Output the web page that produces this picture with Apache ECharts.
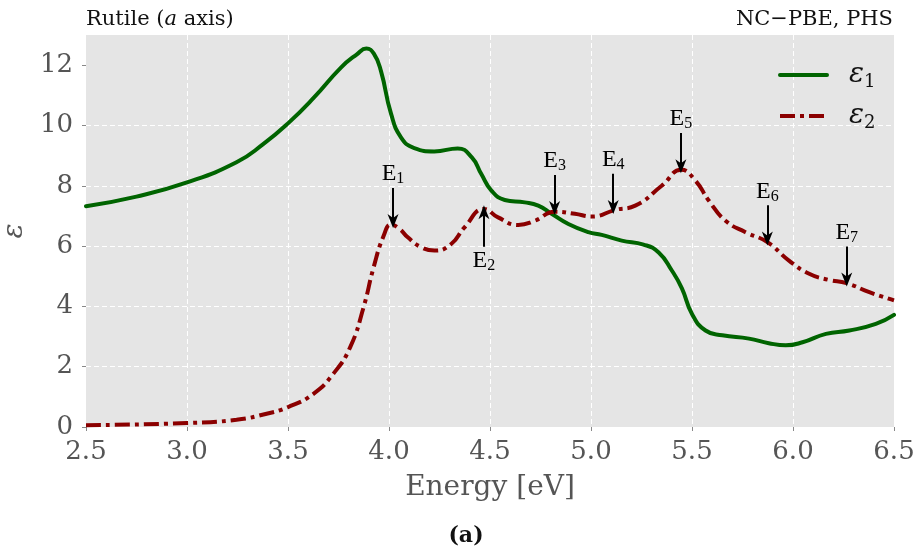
<!DOCTYPE html>
<html>
<head>
<meta charset="utf-8">
<script src="https://cdn.jsdelivr.net/npm/echarts@6/dist/echarts.min.js"></script>
<style>
html,body{margin:0;padding:0;background:#fff;}
#chart{width:923px;height:553px;}
</style>
</head>
<body>
<div id="chart"></div>
<script>
// ---- data ----
const eps1X = [2.5, 2.75, 3.0, 3.245, 3.377, 3.5, 3.629, 3.762, 3.841, 3.888, 3.925, 3.96, 4.01, 4.06, 4.125, 4.224, 4.34, 4.41, 4.457, 4.507, 4.573, 4.672, 4.739, 4.805, 4.888, 4.987, 5.053, 5.152, 5.26, 5.335, 5.40, 5.45, 5.50, 5.567, 5.65, 5.782, 5.88, 5.964, 6.047, 6.163, 6.279, 6.41, 6.5];
const eps1Y = [7.32, 7.64, 8.11, 8.78, 9.38, 10.07, 10.93, 11.92, 12.36, 12.55, 12.38, 11.81, 10.39, 9.6, 9.25, 9.14, 9.24, 8.94, 8.39, 7.84, 7.53, 7.45, 7.34, 7.07, 6.73, 6.46, 6.37, 6.18, 6.05, 5.79, 5.19, 4.6, 3.75, 3.20, 3.04, 2.93, 2.78, 2.71, 2.81, 3.09, 3.20, 3.42, 3.72];

const eps2X = [2.5, 3.0, 3.245, 3.394, 3.5, 3.626, 3.725, 3.808, 3.874, 3.924, 3.974, 4.01, 4.052, 4.093, 4.16, 4.225, 4.308, 4.374, 4.471, 4.54, 4.64, 4.722, 4.821, 4.92, 5.004, 5.12, 5.219, 5.35, 5.447, 5.517, 5.583, 5.666, 5.765, 5.873, 5.98, 6.08, 6.176, 6.265, 6.378, 6.5];
const eps2Y = [0.06, 0.13, 0.24, 0.44, 0.66, 1.10, 1.77, 2.65, 3.97, 5.30, 6.35, 6.71, 6.57, 6.29, 5.96, 5.85, 6.07, 6.62, 7.23, 6.95, 6.70, 6.84, 7.14, 7.07, 6.98, 7.20, 7.34, 8.0, 8.53, 8.17, 7.51, 6.84, 6.46, 6.13, 5.52, 5.08, 4.88, 4.77, 4.47, 4.20];

// annotation peaks E1..E7
const annNames = ['1', '2', '3', '4', '5', '6', '7'];
const annX = [4.02, 4.47, 4.82, 5.11, 5.445, 5.873, 6.266];
const annY = [6.71, 7.23, 7.14, 7.18, 8.53, 6.13, 4.77];
const annUp = [false, true, false, false, false, false, false];

const xTicks = [2.5, 3.0, 3.5, 4.0, 4.5, 5.0, 5.5, 6.0, 6.5];
const yTicks = [0, 2, 4, 6, 8, 10, 12];

const seriesNames = ['ε1', 'ε2'];
const titleRight = 'NC\u2212PBE, PHS';
const xName = 'Energy [eV]';
const yName = 'ε';
const caption = '(a)';

// ---- build ----
const zip = (xs, ys) => xs.map((x, i) => [x, ys[i]]);
const SERIF = 'DejaVu Serif';
const TIMES = 'Liberation Serif';
const arrowPath = 'path://M5,0 L10,14 L5,10 L0,14 Z';

const markData = annX.map((x, i) => {
  const v = annY[i];
  const start = annUp[i] ? v - 1.25 : v + 1.22;
  const end = annUp[i] ? v - 0.11 : v + 0.12;
  return [
    { name: annNames[i], coord: [x, start], symbol: 'none' },
    { coord: [x, end], symbol: arrowPath, symbolSize: [11, 14] }
  ];
});

const chart = echarts.init(document.getElementById('chart'), null, { renderer: 'canvas' });
chart.setOption({
  animation: false,
  backgroundColor: '#ffffff',
  title: [
    {
      text: '{n|Rutile (}{i|a}{n| axis)}',
      left: 81, top: 4,
      textStyle: { fontWeight: 'normal', rich: {
        n: { fontFamily: SERIF, fontSize: 21, fontWeight: 'normal', color: '#111' },
        i: { fontFamily: SERIF, fontStyle: 'italic', fontWeight: 'normal', fontSize: 21, color: '#111' }
      } }
    },
    {
      text: titleRight,
      right: 25, top: 4,
      textStyle: { fontFamily: SERIF, fontSize: 21, fontWeight: 'normal', color: '#111' }
    },
    {
      text: caption,
      left: 461, top: 520, textAlign: 'center',
      textStyle: { fontFamily: SERIF, fontSize: 22, fontWeight: 'bold', color: '#111' }
    }
  ],
  legend: {
    orient: 'vertical',
    left: 773, top: 56,
    itemWidth: 47, itemHeight: 14, itemGap: 11,
    data: seriesNames,
    itemStyle: { opacity: 0 },
    lineStyle: { width: 4 },
    formatter: n => '{e|ε}{s|' + n.slice(1) + '}',
    textStyle: { rich: {
      e: { fontFamily: SERIF, fontStyle: 'italic', fontSize: 28, lineHeight: 32, color: '#111', padding: [0, 0, 0, 17] },
      s: { fontFamily: SERIF, fontSize: 18, lineHeight: 22, verticalAlign: 'bottom', color: '#111' }
    } }
  },
  grid: {
    left: 86, right: 29, top: 35, bottom: 126,
    outerBoundsMode: 'none', containLabel: false,
    show: true, backgroundColor: '#E5E5E5', borderWidth: 0
  },
  xAxis: {
    type: 'value', min: xTicks[0], max: xTicks[xTicks.length - 1], interval: 0.5,
    name: xName, nameLocation: 'middle', nameGap: 47,
    nameTextStyle: { fontFamily: SERIF, fontSize: 28, color: '#555' },
    axisLine: { show: false },
    axisTick: { show: true, length: 4, lineStyle: { color: '#888', width: 1 } },
    axisLabel: { margin: 12, fontFamily: SERIF, fontSize: 26, color: '#555',
      formatter: v => v.toFixed(1) },
    splitLine: { show: true, showMinLine: false, showMaxLine: false,
      lineStyle: { color: '#ffffff', type: [5, 3], width: 1 } }
  },
  yAxis: {
    type: 'value', min: 0, max: 13, interval: 2,
    name: yName, nameLocation: 'middle', nameGap: 52, nameRotate: 90,
    nameTextStyle: { fontFamily: SERIF, fontStyle: 'italic', fontSize: 28, color: '#555' },
    axisLine: { show: false },
    axisTick: { show: true, length: 4, customValues: yTicks, lineStyle: { color: '#888', width: 1 } },
    axisLabel: { margin: 13, fontFamily: SERIF, fontSize: 26, color: '#555',
      customValues: yTicks },
    splitLine: { show: true, showMinLine: true, showMaxLine: false,
      lineStyle: { color: '#ffffff', type: [5, 3], width: 1 } }
  },
  series: [
    {
      name: seriesNames[0], type: 'line', data: zip(eps1X, eps1Y),
      smooth: 0.5, showSymbol: false, symbol: 'none',
      lineStyle: { color: '#006400', width: 4, cap: 'round' },
      itemStyle: { color: '#006400' },
      z: 3
    },
    {
      name: seriesNames[1], type: 'line', data: zip(eps2X, eps2Y),
      smooth: 0.5, showSymbol: false, symbol: 'none',
      lineStyle: { color: '#8B0000', width: 4, type: [15, 5, 4, 5], cap: 'butt' },
      itemStyle: { color: '#8B0000' },
      z: 4,
      markLine: {
        silent: true, animation: false,
        symbol: ['none', arrowPath],
        lineStyle: { color: '#000', width: 2, type: 'solid' },
        label: {
          show: true, position: 'start', distance: 1,
          formatter: p => '{e|E}{s|' + p.name + '}',
          rich: {
            e: { fontFamily: TIMES, fontSize: 24, lineHeight: 26, color: '#000' },
            s: { fontFamily: TIMES, fontSize: 16, lineHeight: 18, verticalAlign: 'bottom', color: '#000' }
          }
        },
        emphasis: { disabled: true },
        data: markData
      }
    }
  ]
});
</script>
</body>
</html>
